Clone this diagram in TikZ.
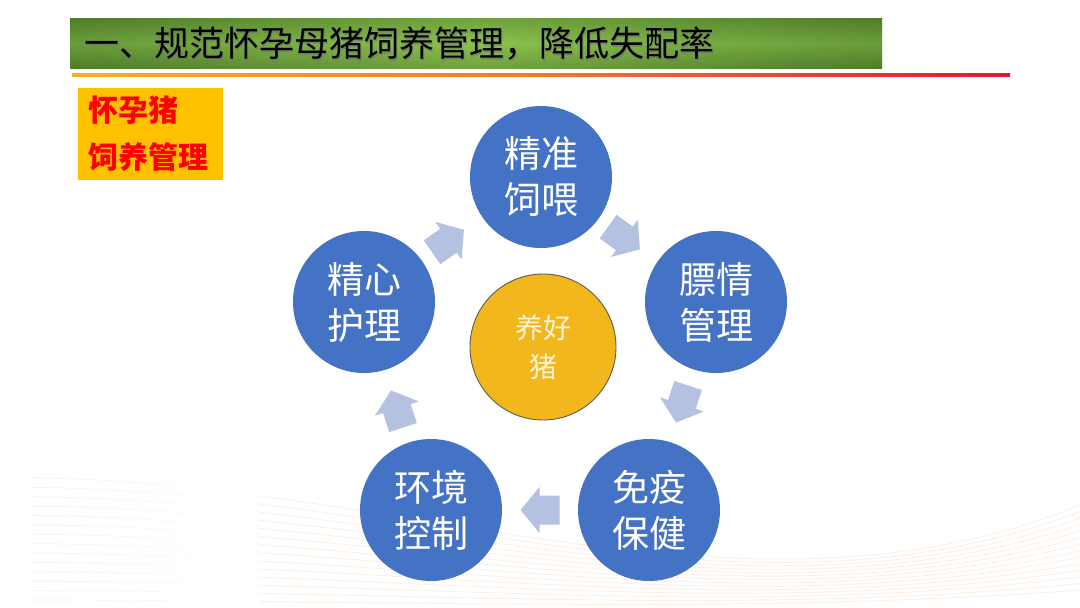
\documentclass[tikz,border=0pt]{standalone}
\usepackage{fontspec}
\setmainfont{Noto Sans CJK SC}
\usetikzlibrary{fadings}
\definecolor{cblue}{HTML}{4472C4}
\definecolor{carrow}{HTML}{B4C1E1}
\definecolor{cgold}{HTML}{F2B71C}
\definecolor{cgoldline}{HTML}{5F5A50}
\definecolor{ccream}{HTML}{FFF3D6}
\definecolor{corange}{HTML}{FFC000}
\definecolor{gdark}{HTML}{4F7D2A}
\definecolor{glight}{HTML}{8CC24E}
\definecolor{lineL}{HTML}{F2B226}
\definecolor{lineM}{HTML}{EE7A2A}
\definecolor{lineR}{HTML}{E3172F}
\definecolor{wave}{HTML}{F7D3B5}
\tikzset{
  stepcircle/.style={circle, fill=cblue, minimum size=142pt, inner sep=0pt, text=white, align=center,
    font=\fontsize{37}{46}\selectfont},
  hubcircle/.style={circle, fill=cgold, draw=cgoldline, line width=0.9pt, minimum size=146pt, inner sep=0pt,
    text=ccream, align=center, font=\fontsize{28}{39}\selectfont},
  blockarrow/.style={fill=carrow},
  wavecurve/.style={draw=wave, line width=0.7pt, opacity=0.4},
}
\newcommand\myblockarrow[2]{%
  \fill[blockarrow, shift={(#1)}, rotate=#2] (-19.5,-14.5) -- (0.5,-14.5) -- (0.5,-23) -- (19.5,0)
    -- (0.5,23) -- (0.5,14.5) -- (-19.5,14.5) -- cycle;}
\begin{document}
\begin{tikzpicture}[x=1pt,y=-1pt]
\useasboundingbox (0,0) rectangle (1080,608);
\fill[white] (0,0) rectangle (1080,608);
% background waves
\foreach \i in {0,...,13}{
  \pgfmathsetmacro\f{\i/13}
  \pgfmathsetmacro\ya{478+122*\f}
  \pgfmathsetmacro\yb{480+120*\f}
  \pgfmathsetmacro\yc{640-25*\f}
  \pgfmathsetmacro\yd{505+85*\f}
  \draw[wavecurve] (30,\ya) .. controls (400,\yb) and (750,\yc) .. (1080,\yd);
}
\fill[white, path fading=west] (0,460) rectangle (260,608);
% title bar
\shade[left color=gdark, right color=gdark, middle color=glight] (70,18) rectangle (882,68);
\shade[top color=gdark, bottom color=gdark, middle color=glight, opacity=0.45] (70,18) rectangle (882,68);
\node[anchor=west, inner sep=0pt, text=black!55, opacity=0.6, font=\fontsize{35}{35}\selectfont] at (85.5,45.5) {一、规范怀孕母猪饲养管理，降低失配率};
\node[anchor=west, inner sep=0pt, text=black, font=\fontsize{35}{35}\selectfont] (title) at (84,44) {一、规范怀孕母猪饲养管理，降低失配率};
% underline
\shade[left color=lineL, right color=lineR, middle color=lineM] (72,73.5) rectangle (1010,76.5);
% orange label box
\node[fill=corange, minimum width=145pt, minimum height=92pt, inner sep=0pt, text width=124pt, align=left,
  text=red, font=\fontsize{30}{47}\selectfont\bfseries] (label) at (150.5,134) {怀孕猪\\饲养管理};
% cycle
\node[stepcircle] (n1) at (541,177) {精准\\饲喂};
\node[stepcircle] (n2) at (716,302) {膘情\\管理};
\node[stepcircle] (n3) at (649,510) {免疫\\保健};
\node[stepcircle] (n4) at (431,510) {环境\\控制};
\node[stepcircle] (n5) at (364,302) {精心\\护理};
\node[hubcircle] (hub) at (543,347) {养好\\猪};
% arrows
\coordinate (a1) at (448,241);
\coordinate (a2) at (624,238);
\coordinate (a3) at (682,404);
\coordinate (a4) at (540,510);
\coordinate (a5) at (397,409);
\myblockarrow{a1}{35}
\myblockarrow{a2}{-35.5}
\myblockarrow{a3}{-108}
\myblockarrow{a4}{180}
\myblockarrow{a5}{108}
\end{tikzpicture}
\end{document}
